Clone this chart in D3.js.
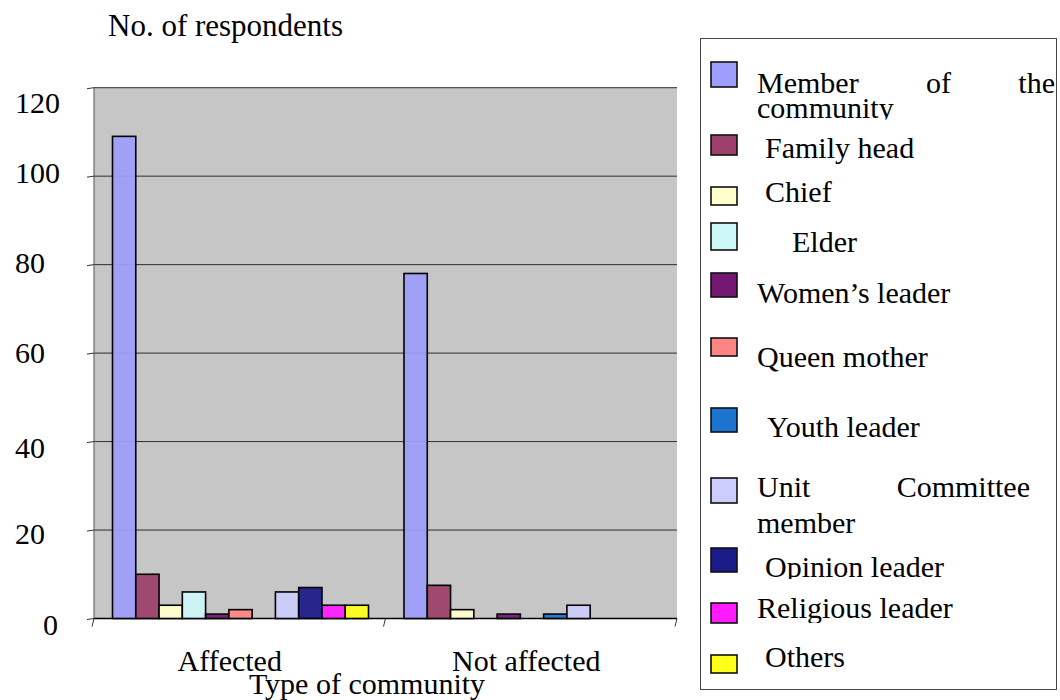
<!DOCTYPE html>
<html>
<head>
<meta charset="utf-8">
<script src="https://cdn.jsdelivr.net/npm/d3@7"></script>
<style>
  body { margin: 0; background: #fff; }
  svg { display: block; }
  text { font-family: "Liberation Serif", "Times New Roman", serif; fill: #000; }
</style>
</head>
<body>
<script>
// data
var categories = ["Affected", "Not affected"];
var seriesNames = ["Member of the community", "Family head", "Chief", "Elder", "Women\u2019s leader",
    "Queen mother", "Youth leader", "Unit Committee member", "Opinion leader", "Religious leader", "Others"];
var affected = [109, 10, 3, 6, 1, 2, 0, 6, 7, 3, 3];
var notAffected = [78, 7.5, 2, 0, 1, 0, 1, 3, 0, 0, 0];
var yTicks = [0, 20, 40, 60, 80, 100, 120];
var colors = ["#9d9dfb", "#9c3f6b", "#ffffcc", "#ccf8f8", "#741874", "#ff8585",
    "#1a74d0", "#ccccfd", "#1a1a88", "#ff1aff", "#ffff1a"];

let width = 1060;
let height = 700;

let svg = d3.select("body").append("svg")
    .attr("width", width)
    .attr("height", height);

// plot area
let plot = {left: 94, right: 677, top: 87.7, bottom: 618.5};

let y = d3.scaleLinear().domain([0, 120]).range([plot.bottom, plot.top]);
let x0 = d3.scaleBand().domain(categories).range([plot.left, plot.right]);
let x1 = d3.scaleBand().domain(seriesNames).range([18.5, 274.5]);

svg.append("rect")
    .attr("x", plot.left).attr("y", plot.top)
    .attr("width", plot.right - plot.left).attr("height", plot.bottom - plot.top)
    .attr("fill", "#c6c6c6");

// gridlines
svg.selectAll(".grid")
    .data(yTicks)
    .join("line")
    .attr("class", "grid")
    .attr("x1", plot.left).attr("x2", plot.right)
    .attr("y1", d => y(d)).attr("y2", d => y(d))
    .attr("stroke", d => d === 0 ? "#000" : "#2e2e2e")
    .attr("stroke-width", d => d === 0 ? 1.6 : 1);

// left axis line + ticks
svg.append("line")
    .attr("x1", plot.left).attr("x2", plot.left)
    .attr("y1", plot.top).attr("y2", plot.bottom)
    .attr("stroke", "#555");
svg.selectAll(".ytick")
    .data(yTicks)
    .join("line")
    .attr("x1", plot.left - 7).attr("x2", plot.left)
    .attr("y1", d => y(d) + 1).attr("y2", d => y(d))
    .attr("stroke", "#333");

// label nudges, the labels in the picture sit a bit below the gridlines
let labelDy = {0: 16, 20: 14, 40: 16, 60: 10, 80: 8, 100: 7, 120: 25};
svg.selectAll(".ylabel")
    .data(yTicks)
    .join("text")
    .attr("class", "ylabel")
    .attr("x", d => String(d).length === 1 ? 43 : 15)
    .attr("y", d => y(d) + labelDy[d])
    .style("font-size", "30px")
    .text(d => d);

// x ticks at category edges
let edges = categories.map(c => x0(c)).concat([plot.right]);
svg.selectAll(".xtick")
    .data(edges)
    .join("line")
    .attr("x1", d => d).attr("x2", d => d - 2)
    .attr("y1", plot.bottom).attr("y2", plot.bottom + 8)
    .attr("stroke", "#333");

// bars
let valuesByCat = [affected, notAffected];
categories.forEach((cat, ci) => {
    let g = svg.append("g").attr("transform", "translate(" + x0(cat) + ",0)");
    g.selectAll("rect")
        .data(valuesByCat[ci].map((v, i) => ({name: seriesNames[i], value: v, color: colors[i]}))
            .filter(d => d.value > 0))
        .join("rect")
        .attr("x", d => x1(d.name))
        .attr("y", d => y(d.value))
        .attr("width", x1.bandwidth())
        .attr("height", d => y(0) - y(d.value))
        .attr("fill", d => d.color)
        .attr("fill-opacity", 0.93)
        .attr("stroke", "#000")
        .attr("stroke-width", 1.6);
});

// category labels
let labelShift = [-10, -5];
svg.selectAll(".xlabel")
    .data(categories)
    .join("text")
    .attr("x", (d, i) => x0(d) + x0.bandwidth() / 2 + labelShift[i])
    .attr("y", 671)
    .attr("text-anchor", "middle")
    .style("font-size", "30px")
    .text(d => d);

svg.append("text")
    .attr("x", 367).attr("y", 694)
    .attr("text-anchor", "middle")
    .style("font-size", "30px")
    .text("Type of community");

svg.append("text")
    .attr("x", 108).attr("y", 36)
    .style("font-size", "31px")
    .text("No. of respondents");

// legend
let legendBox = {x: 700.5, y: 38.5, w: 356, h: 651};
svg.append("rect")
    .attr("x", legendBox.x).attr("y", legendBox.y)
    .attr("width", legendBox.w).attr("height", legendBox.h)
    .attr("fill", "#fff")
    .attr("stroke", "#444");

let swatchY = [62, 135, 187, 223, 273, 338, 408, 478, 548, 603, 655];
let swatchH = [25, 20, 18, 27, 24, 18, 24, 25, 24, 20, 18];
let textX = [757, 765, 765, 792, 757, 757, 767, 757, 765, 757, 765];
let baseY = [93, 158, 202, 252, 303, 367, 437, 497, 577, 618, 667];
let lineGap = [25, 0, 0, 0, 0, 0, 0, 36, 0, 0, 0];
let textRight = [1055, 1055, 1055, 1055, 1055, 1055, 1055, 1030, 1055, 1055, 1055];
let clipBottom = [119.5, 0, 0, 0, 0, 0, 0, 0, 579, 623, 0];

let defs = svg.append("defs");
defs.append("clipPath").attr("id", "legendClip")
    .append("rect")
    .attr("x", legendBox.x).attr("y", legendBox.y)
    .attr("width", legendBox.w - 0.5).attr("height", legendBox.h);

let legend = svg.append("g").attr("clip-path", "url(#legendClip)");

// one hidden text node to measure word widths
let measure = svg.append("text").style("font-size", "30px").attr("visibility", "hidden");
function wordW(w) {
    measure.text(w);
    return measure.node().getComputedTextLength();
}
let spaceW = wordW("a b") - wordW("ab");

seriesNames.forEach((name, i) => {
    legend.append("rect")
        .attr("x", 711).attr("y", swatchY[i])
        .attr("width", 26).attr("height", swatchH[i])
        .attr("fill", colors[i])
        .attr("stroke", "#111")
        .attr("stroke-width", 1.6);

    let item = legend.append("g");
    if (clipBottom[i]) {
        defs.append("clipPath").attr("id", "itemClip" + i)
            .append("rect")
            .attr("x", 700).attr("y", 0)
            .attr("width", 360).attr("height", clipBottom[i]);
        item.attr("clip-path", "url(#itemClip" + i + ")");
    }

    // wrap words and justify every line but the last
    let words = name.split(" ");
    let maxW = textRight[i] - textX[i];
    let lines = [];
    let cur = [];
    let curW = 0;
    words.forEach(w => {
        let ww = wordW(w);
        let next = cur.length ? curW + spaceW + ww : ww;
        if (cur.length && next > maxW) {
            lines.push(cur);
            cur = [w];
            curW = ww;
        } else {
            cur.push(w);
            curW = next;
        }
    });
    lines.push(cur);

    lines.forEach((ln, li) => {
        let by = baseY[i] + li * lineGap[i];
        if (li < lines.length - 1 && ln.length > 1) {
            let widths = ln.map(wordW);
            let gap = (maxW - d3.sum(widths)) / (ln.length - 1);
            let xx = textX[i];
            ln.forEach((w, wi) => {
                item.append("text").attr("x", xx).attr("y", by)
                    .style("font-size", "30px").text(w);
                xx += widths[wi] + gap;
            });
        } else {
            item.append("text").attr("x", textX[i]).attr("y", by)
                .style("font-size", "30px").text(ln.join(" "));
        }
    });
});
measure.remove();
</script>
</body>
</html>
